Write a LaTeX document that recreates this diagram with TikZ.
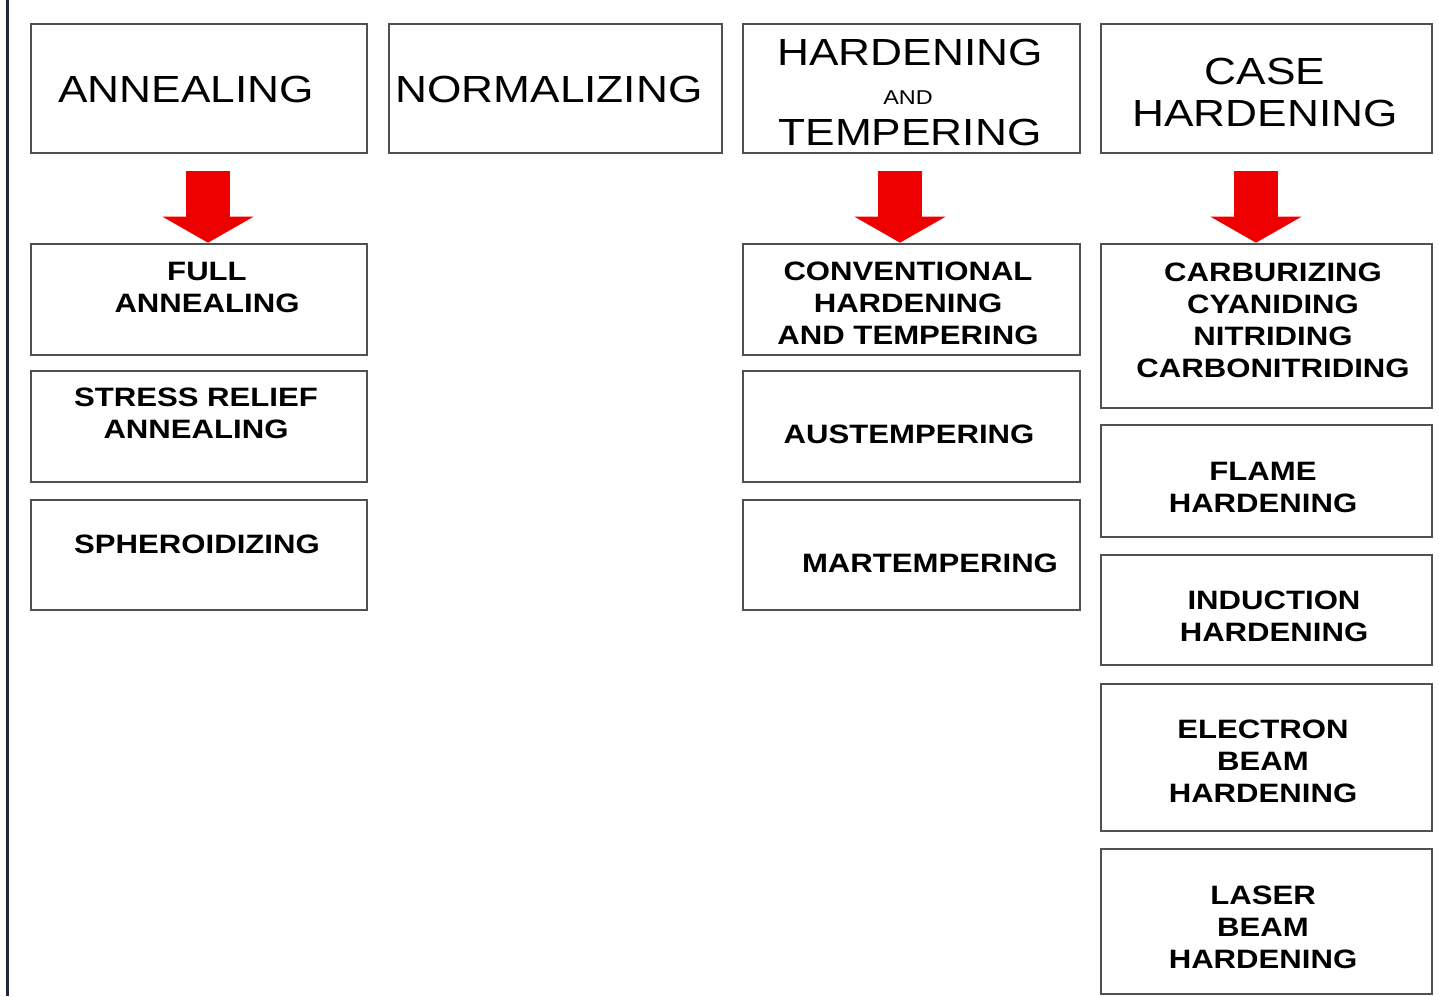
\documentclass[tikz,border=0pt]{standalone}
\usepackage{fontspec}
\usepackage{graphicx}
\setmainfont{Liberation Sans}
\usetikzlibrary{arrows.meta}
\definecolor{boxgray}{RGB}{80,80,80}
\definecolor{arrowred}{RGB}{238,0,0}
\definecolor{edgeblue}{RGB}{30,40,60}
\newcommand{\widetext}[1]{\scalebox{1.17}[1]{\begin{tabular}{@{}c@{}}#1\end{tabular}}}
\tikzset{
  box/.style={draw=boxgray, line width=1.3pt, inner sep=0pt},
  head/.style={font=\fontsize{18.9}{21}\selectfont, inner sep=0pt, yshift=-2.5pt},
  smallhead/.style={font=\fontsize{10}{12}\selectfont, inner sep=0pt, yshift=-1.5pt},
  sub/.style={font=\bfseries\fontsize{13.3}{16}\selectfont, inner sep=0pt, yshift=-2pt},
  downarrow/.style={draw=arrowred, line width=22pt, -{Triangle[width=45pt,length=13pt]}}
}
\begin{document}
\begin{tikzpicture}[x=0.5pt,y=-0.5pt]
      \useasboundingbox (0,0) rectangle (1439,996);
      \draw[edgeblue, line width=1.5pt] (7,0) -- (7,996);
      % boxes: name/left/top/right/bottom
      \foreach \n/\l/\t/\r/\b in {
        ann/31/24/367/153, norm/389/24/722/153, hard/743/24/1080/153, case/1101/24/1432/153,
        full/31/244/367/355, stress/31/371/367/482, sphero/31/500/367/610,
        conv/743/244/1080/355, austem/743/371/1080/482, martem/743/500/1080/610,
        carb/1101/244/1432/408, flame/1101/425/1432/537, induct/1101/555/1432/665,
        ebeam/1101/684/1432/831, lbeam/1101/849/1432/994
      }{
        \node[box, minimum width={(\r-\l)*0.5pt}, minimum height={(\b-\t)*0.5pt}]
          (\n) at ({(\l+\r)/2},{(\t+\b)/2}) {};
      }
      % headings
      \foreach \n/\x/\y/\v in {
        hann/186/89/ANNEALING, hnorm/549/89/NORMALIZING,
        hhard/910/52/HARDENING, htemp/910/132/TEMPERING,
        hcase/1265/92/{CASE\\HARDENING}%
      }{
        \node[head] (\n) at (\x,\y) {\widetext{\v}};
      }
      \node[smallhead] (hand) at (908,97) {\widetext{AND}};
      % sub-processes
      \foreach \n/\x/\y/\v in {
        sfull/207/286/{FULL\\ANNEALING}, sstress/196/412/{STRESS RELIEF\\ANNEALING},
        ssphero/197/543/SPHEROIDIZING,
        sconv/908/302/{CONVENTIONAL\\HARDENING\\AND TEMPERING},
        saustem/909/433/AUSTEMPERING, smartem/930/562/MARTEMPERING,
        scarb/1273/319/{CARBURIZING\\CYANIDING\\NITRIDING\\CARBONITRIDING},
        sflame/1263/486/{FLAME\\HARDENING}, sinduct/1274/615/{INDUCTION\\HARDENING},
        sebeam/1263/760/{ELECTRON\\BEAM\\HARDENING}, slbeam/1263/926/{LASER\\BEAM\\HARDENING}%
      }{
        \node[sub] (\n) at (\x,\y) {\widetext{\v}};
      }
      \draw[downarrow] ([xshift=4.5pt,yshift=-8.5pt]ann.south) -- ([xshift=4.5pt]full.north);
      \draw[downarrow] ([xshift=-5.75pt,yshift=-8.5pt]hard.south) -- ([xshift=-5.75pt]conv.north);
      \draw[downarrow] ([xshift=-5.25pt,yshift=-8.5pt]case.south) -- ([xshift=-5.25pt]carb.north);
    \end{tikzpicture}
\end{document}
